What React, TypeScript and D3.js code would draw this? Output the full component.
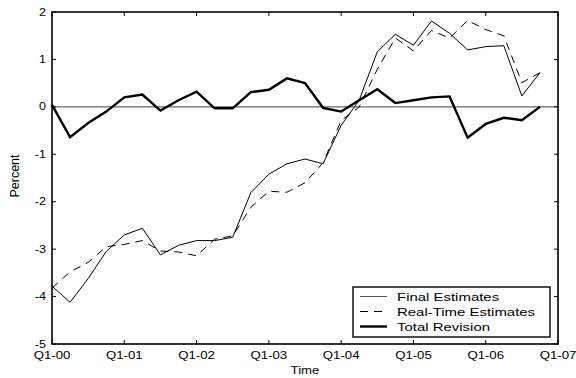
import React from "react";
import * as d3 from "d3";

// Quarterly labels on the time axis (Q1-00 .. Q1-07)
const xTickLabels = ["Q1-00", "Q1-01", "Q1-02", "Q1-03", "Q1-04", "Q1-05", "Q1-06", "Q1-07"];
const yTicks = [-5, -4, -3, -2, -1, 0, 1, 2];

// Quarterly series, Q1-2000 .. Q4-2006 (percent)
const finalEstimates = [
  -3.78, -4.12, -3.62, -3.05, -2.7, -2.56, -3.12, -2.92, -2.82, -2.82, -2.75, -1.81, -1.42, -1.2,
  -1.1, -1.2, -0.39, 0.14, 1.16, 1.53, 1.3, 1.81, 1.55, 1.2, 1.27, 1.29, 0.23, 0.72,
];
const realTimeEstimates = [
  -3.82, -3.48, -3.28, -2.95, -2.9, -2.82, -3.04, -3.06, -3.14, -2.79, -2.72, -2.12, -1.78, -1.8,
  -1.6, -1.18, -0.29, 0.0, 0.79, 1.45, 1.18, 1.61, 1.45, 1.82, 1.63, 1.5, 0.51, 0.72,
];
const totalRevision = [
  0.04, -0.64, -0.34, -0.1, 0.2, 0.26, -0.08, 0.14, 0.32, -0.03, -0.03, 0.31, 0.36, 0.6, 0.5,
  -0.02, -0.1, 0.14, 0.37, 0.08, 0.14, 0.2, 0.22, -0.65, -0.36, -0.23, -0.28, 0.0,
];

const DASH = "8,6";

const legendItems = [
  { label: "Final Estimates", dash: "none", width: 1, color: "#555" },
  { label: "Real-Time Estimates", dash: DASH, width: 1, color: "#000" },
  { label: "Total Revision", dash: "none", width: 2.4, color: "#000" },
];

const W = 576;
const H = 378;
const plot = { left: 52, top: 12, right: 558, bottom: 344 };
const FONT = "'Liberation Sans', Arial, Helvetica, sans-serif";

export default function App() {
  const x = d3.scaleLinear().domain([0, 28]).range([plot.left, plot.right]);
  const y = d3.scaleLinear().domain([-5, 2]).range([plot.bottom, plot.top]);
  const line = d3
    .line<number>()
    .x((_, i) => x(i))
    .y((d) => y(d));

  const tickLen = 4;
  const lgX = 353;
  const lgY = 287;
  const lgW = 197;
  const lgH = 50;

  return (
    <svg
      width={W}
      height={H}
      style={{ position: "absolute", left: 0, top: 0, background: "#fff" }}
      fontFamily={FONT}
    >
      {/* zero reference line */}
      <line x1={plot.left} x2={plot.right} y1={y(0)} y2={y(0)} stroke="#666" strokeWidth={1.2} />

      {/* series */}
      <path d={line(finalEstimates) ?? ""} fill="none" stroke="#000" strokeWidth={1} />
      <path
        d={line(realTimeEstimates) ?? ""}
        fill="none"
        stroke="#000"
        strokeWidth={1}
        strokeDasharray={DASH}
      />
      <path
        d={line(totalRevision) ?? ""}
        fill="none"
        stroke="#000"
        strokeWidth={2.4}
        strokeLinejoin="miter"
      />

      {/* box frame */}
      <rect
        x={plot.left}
        y={plot.top}
        width={plot.right - plot.left}
        height={plot.bottom - plot.top}
        fill="none"
        stroke="#000"
        strokeWidth={1.6}
      />

      {/* x ticks (inward, top and bottom) */}
      {xTickLabels.map((lab, i) => {
        const xx = x(i * 4);
        return (
          <g key={lab}>
            <line x1={xx} x2={xx} y1={plot.bottom} y2={plot.bottom - tickLen} stroke="#000" />
            <line x1={xx} x2={xx} y1={plot.top} y2={plot.top + tickLen} stroke="#000" />
            <text
              x={0}
              y={0}
              transform={`translate(${xx},${plot.bottom + 14.5}) scale(1.2,1)`}
              textAnchor="middle"
              fontSize={11}
            >
              {lab}
            </text>
          </g>
        );
      })}

      {/* y ticks (inward, left and right) */}
      {yTicks.map((v) => {
        const yy = y(v);
        return (
          <g key={v}>
            <line x1={plot.left} x2={plot.left + tickLen} y1={yy} y2={yy} stroke="#000" />
            <line x1={plot.right} x2={plot.right - tickLen} y1={yy} y2={yy} stroke="#000" />
            <text
              x={0}
              y={0}
              transform={`translate(46,${yy + 3.5}) scale(1.2,1)`}
              textAnchor="end"
              fontSize={10.5}
            >
              {v}
            </text>
          </g>
        );
      })}

      {/* axis titles */}
      <text transform={`translate(305,374) scale(1.2,1)`} textAnchor="middle" fontSize={11}>
        Time
      </text>
      <text transform={`translate(19,176) rotate(-90)`} textAnchor="middle" fontSize={12.5}>
        Percent
      </text>

      {/* legend */}
      <rect x={lgX} y={lgY} width={lgW} height={lgH} fill="#fff" stroke="#000" strokeWidth={1.4} />
      {legendItems.map((it, i) => {
        const cy = lgY + 9.5 + i * 15;
        return (
          <g key={it.label}>
            <line
              x1={lgX + 7}
              x2={lgX + 34}
              y1={cy}
              y2={cy}
              stroke={it.color}
              strokeWidth={it.width}
              strokeDasharray={it.dash === "none" ? undefined : it.dash}
            />
            <text transform={`translate(${lgX + 44},${cy + 4.5}) scale(1.3,1)`} fontSize={11.5}>
              {it.label}
            </text>
          </g>
        );
      })}
    </svg>
  );
}
